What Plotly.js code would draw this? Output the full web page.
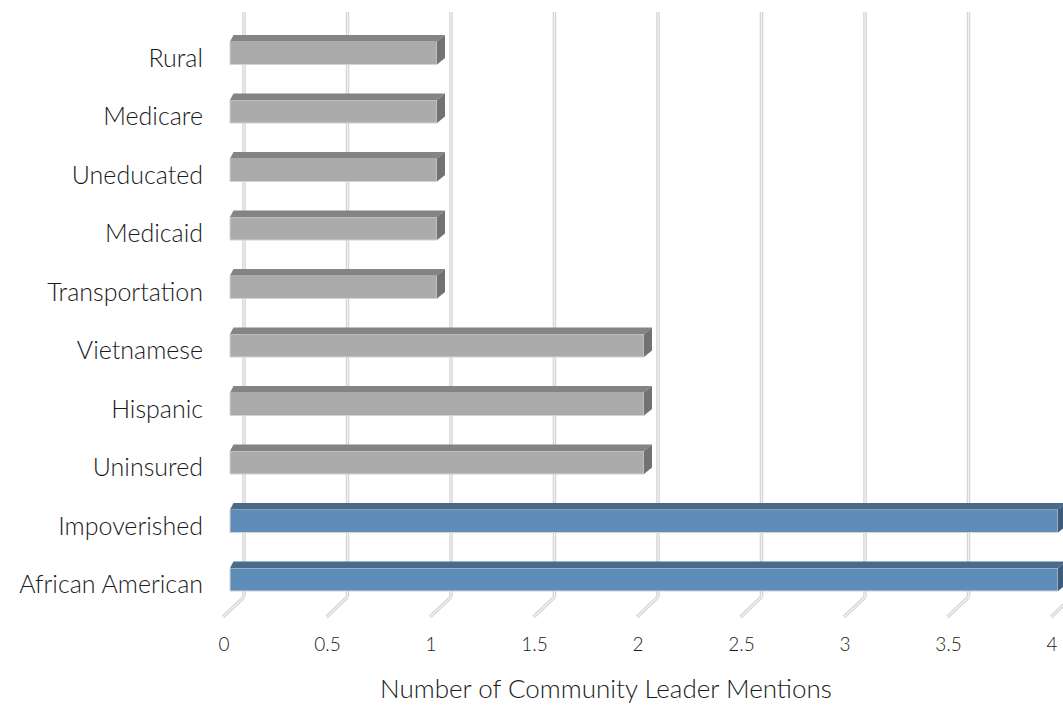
<!DOCTYPE html>
<html>
<head>
<meta charset="utf-8">
<script src="https://cdn.plot.ly/plotly-3.0.1.min.js"></script>
<style>html,body{margin:0;padding:0;background:#fff;}</style>
</head>
<body>
<div id="chart" style="width:1063px;height:706px;"></div>
<script>
// Community groups mentioned by leaders, bottom to top
const categories = ['African American', 'Impoverished', 'Uninsured', 'Hispanic', 'Vietnamese',
                    'Transportation', 'Medicaid', 'Uneducated', 'Medicare', 'Rural'];
const mentions = [4, 4, 2, 2, 2, 1, 1, 1, 1, 1];
const highlighted = [true, true, false, false, false, false, false, false, false, false];
const xTickValues = [0, 0.5, 1, 1.5, 2, 2.5, 3, 3.5, 4];
const xTickLabels = ['0', '0.5', '1', '1.5', '2', '2.5', '3', '3.5', '4'];
const xTitle = 'Number of Community Leader Mentions';

// ---- geometry of the pseudo-3D plot (pixels) ----
const W = 1063, H = 706;
const M = {l: 220, r: 0, t: 10, b: 86};
const plotW = W - M.l - M.r, plotH = H - M.t - M.b;
const PX_PER_X = 207;        // horizontal scale of the bar front faces
const ZERO_OFFSET = 10;      // value 0 sits this far right of the plot edge
const PX_PER_CAT = 58.5;     // spacing between category rows
const FIRST_ROW = 40.5;      // first row centre above the plot bottom
const BAR_PX = 23;           // thickness of the front face
const DEPTH_LEFT = 3.5, DEPTH_RIGHT = 8, DEPTH_UP = 6.5; // extrusion of bars
const WALL_DX = 14, WALL_BOTTOM = 23, WALL_TOP = 608;    // back wall grid
const FLOOR_DX = -7, FLOOR_DY = 3;                       // floor edge

const xRange = [-ZERO_OFFSET / PX_PER_X, (plotW - ZERO_OFFSET) / PX_PER_X];
const yRange = [-FIRST_ROW / PX_PER_CAT, (plotH - FIRST_ROW) / PX_PER_CAT];
const half = BAR_PX / 2 / PX_PER_CAT;
const dxL = DEPTH_LEFT / PX_PER_X, dxR = DEPTH_RIGHT / PX_PER_X, dy = DEPTH_UP / PX_PER_CAT;

const palette = {
  blue: {front: '#5f8dba', top: '#4a6a8b', side: '#3e5c7a'},
  grey: {front: '#ababab', top: '#848484', side: '#727272'}
};

const rows = categories.map((c, i) => i);
const traces = [];

// front faces
traces.push({
  type: 'bar', orientation: 'h',
  x: mentions, y: rows, width: half * 2,
  marker: {
    color: highlighted.map(h => h ? palette.blue.front : palette.grey.front),
    line: {color: '#d2d2d2', width: 1}
  },
  hoverinfo: 'skip', showlegend: false
});

// top and side faces
mentions.forEach((v, i) => {
  const col = highlighted[i] ? palette.blue : palette.grey;
  const top = i + half, bot = i - half;
  traces.push({
    type: 'scatter', mode: 'lines', fill: 'toself', fillcolor: col.top,
    x: [0, dxL, v + dxR, v, 0], y: [top, top + dy, top + dy, top, top],
    line: {width: 0}, hoverinfo: 'skip', showlegend: false
  });
  traces.push({
    type: 'scatter', mode: 'lines', fill: 'toself', fillcolor: col.side,
    x: [v, v + dxR, v + dxR, v, v], y: [top, top + dy, bot + dy, bot, top],
    line: {width: 0}, hoverinfo: 'skip', showlegend: false
  });
});

// back wall gridlines with their floor segments
const shapes = [];
xTickValues.forEach(v => {
  [{w: 3.5, c: '#d3d3d3'}, {w: 1.2, c: '#f3f3f3'}].forEach(s => {
    const common = {
      type: 'line', layer: 'below',
      xref: 'x', xsizemode: 'pixel', xanchor: v,
      yref: 'paper', ysizemode: 'pixel', yanchor: 0,
      line: {color: s.c, width: s.w}
    };
    shapes.push(Object.assign({}, common, {x0: WALL_DX, x1: WALL_DX, y0: WALL_BOTTOM, y1: WALL_TOP}));
    shapes.push(Object.assign({}, common, {x0: WALL_DX, x1: FLOOR_DX, y0: WALL_BOTTOM, y1: FLOOR_DY}));
  });
});

const font = 'Lato, "Open Sans", sans-serif';
const textColor = '#1a1a1a';

const layout = {
  width: W, height: H,
  margin: M,
  paper_bgcolor: '#ffffff', plot_bgcolor: '#ffffff',
  showlegend: false,
  font: {family: font, color: textColor},
  xaxis: {
    range: xRange, showgrid: false, zeroline: false, showline: false,
    tickmode: 'array', tickvals: xTickValues, ticktext: xTickLabels,
    ticks: '', ticklabelshift: -6, ticklabelstandoff: 11,
    tickfont: {family: font, size: 19, weight: 300, color: textColor},
    fixedrange: true
  },
  yaxis: {
    range: yRange, showgrid: false, zeroline: false, showline: false,
    tickmode: 'array', tickvals: rows, ticktext: categories,
    ticks: '', ticklabelshift: 5, ticklabelstandoff: 16,
    tickfont: {family: font, size: 25, weight: 300, color: textColor},
    fixedrange: true
  },
  shapes: shapes,
  annotations: [{
    text: xTitle, showarrow: false,
    xref: 'paper', yref: 'paper', x: (606 - M.l) / plotW, y: 0,
    xanchor: 'center', yanchor: 'middle', yshift: -68,
    font: {family: font, size: 26, weight: 300, color: textColor}
  }]
};

Plotly.newPlot('chart', traces, layout, {displayModeBar: false, staticPlot: true});
</script>
</body>
</html>
